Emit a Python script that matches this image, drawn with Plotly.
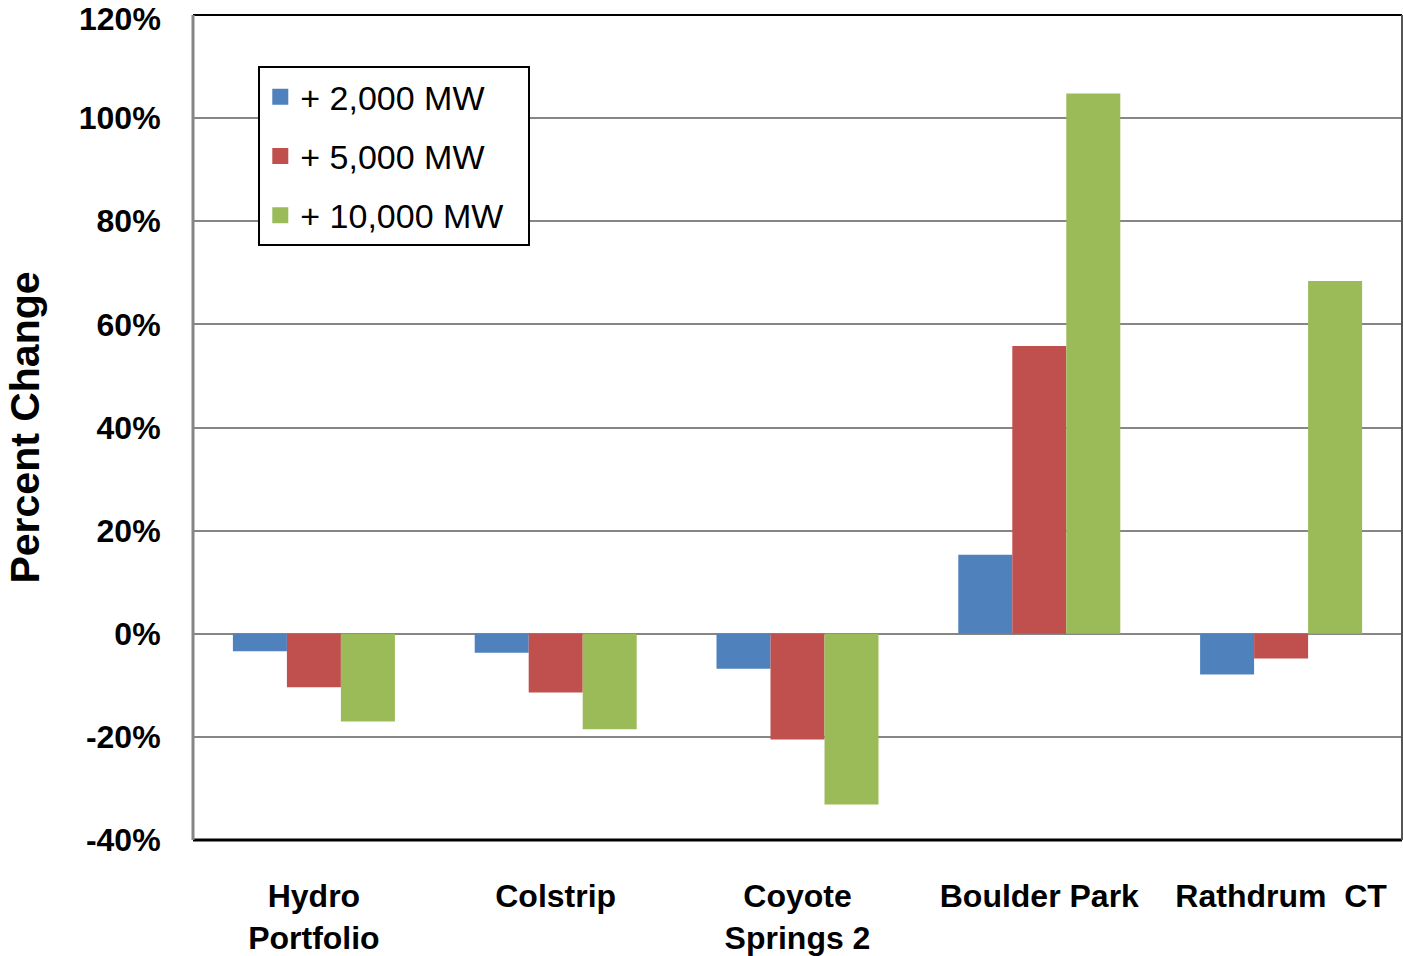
import plotly.graph_objects as go

# Plant categories and percent change for each added-capacity scenario
plants = ["Hydro<br>Portfolio", "Colstrip", "Coyote<br>Springs 2", "Boulder Park", "Rathdrum\u00a0\u00a0CT"]
series_names = ["+ 2,000 MW", "+ 5,000 MW", "+ 10,000 MW"]
add_2000 = [-3.4, -3.7, -6.8, 15.3, -7.9]
add_5000 = [-10.4, -11.4, -20.5, 55.8, -4.8]
add_10000 = [-17.0, -18.5, -33.1, 104.8, 68.4]
colors = ["#4F81BD", "#C0504D", "#9BBB59"]

y_ticks = [-40, -20, 0, 20, 40, 60, 80, 100, 120]
y_tick_text = [f"{v}%" for v in y_ticks]
y_top = y_ticks[-1]

FONT = "Liberation Sans, Arial, sans-serif"
TICK_FONT = dict(family=FONT, size=32, weight="bold", color="black")

fig = go.Figure()
for i, (name, vals) in enumerate(zip(series_names, [add_2000, add_5000, add_10000])):
    fig.add_trace(go.Bar(
        x=plants, y=vals, name=name,
        marker=dict(color=colors[i], line=dict(width=0)),
        legendgroup=f"g{i}", showlegend=False,
    ))
    # square swatch for the legend entry (trailing spaces pad the legend box)
    fig.add_trace(go.Scatter(
        x=[None], y=[None], mode="markers", name=name + "\u00a0\u00a0",
        marker=dict(symbol="square", size=18, color=colors[i]),
        legendgroup=f"g{i}", showlegend=True,
    ))

# the top tick label sits at the frame edge; draw it as an annotation nudged inward
tick_text_axis = [t if v != y_top else "" for v, t in zip(y_ticks, y_tick_text)]

fig.update_layout(
    width=1403, height=956,
    margin=dict(l=193, r=1, t=15, b=116, autoexpand=False),
    paper_bgcolor="white", plot_bgcolor="white",
    barmode="group", bargap=0.33, bargroupgap=0,
    font=dict(family=FONT, color="black"),
    showlegend=True,
    legend=dict(
        x=0.054, y=0.938, xanchor="left", yanchor="top",
        bgcolor="white", bordercolor="black", borderwidth=2,
        font=dict(family=FONT, size=34, color="black"),
        tracegroupgap=12, itemwidth=30, itemsizing="trace",
    ),
    xaxis=dict(
        automargin=False,
        showgrid=False, showline=False, zeroline=False,
        ticks="outside", ticklen=0, ticklabelstandoff=28,
        tickfont=TICK_FONT,
    ),
    yaxis=dict(
        automargin=False,
        range=[-40.001, 120.001], tickvals=y_ticks, ticktext=tick_text_axis,
        showgrid=True, gridcolor="#868686", gridwidth=2,
        zeroline=False, showline=False,
        ticks="outside", ticklen=0, ticklabelstandoff=25,
        tickfont=TICK_FONT,
        title=dict(text="Percent Change", standoff=26,
                   font=dict(family=FONT, size=41, weight="bold", color="black")),
    ),
    annotations=[
        dict(text=y_tick_text[-1], xref="paper", yref="y", x=0, y=y_top,
             xanchor="right", yanchor="middle", xshift=-31, yshift=-4,
             showarrow=False, font=TICK_FONT, borderpad=0),
    ],
    shapes=[
        # plot-area frame
        dict(type="line", xref="paper", yref="paper", x0=0, x1=1, y0=1, y1=1,
             line=dict(color="black", width=2)),
        dict(type="line", xref="paper", yref="paper", x0=0, x1=1, y0=0, y1=0,
             line=dict(color="black", width=3)),
        dict(type="line", xref="paper", yref="paper", x0=0, x1=0, y0=0, y1=1,
             line=dict(color="#868686", width=3)),
        dict(type="line", xref="paper", yref="paper", x0=1, x1=1, y0=0, y1=1,
             line=dict(color="#555555", width=2)),
    ],
)

fig.write_html("out.html")
